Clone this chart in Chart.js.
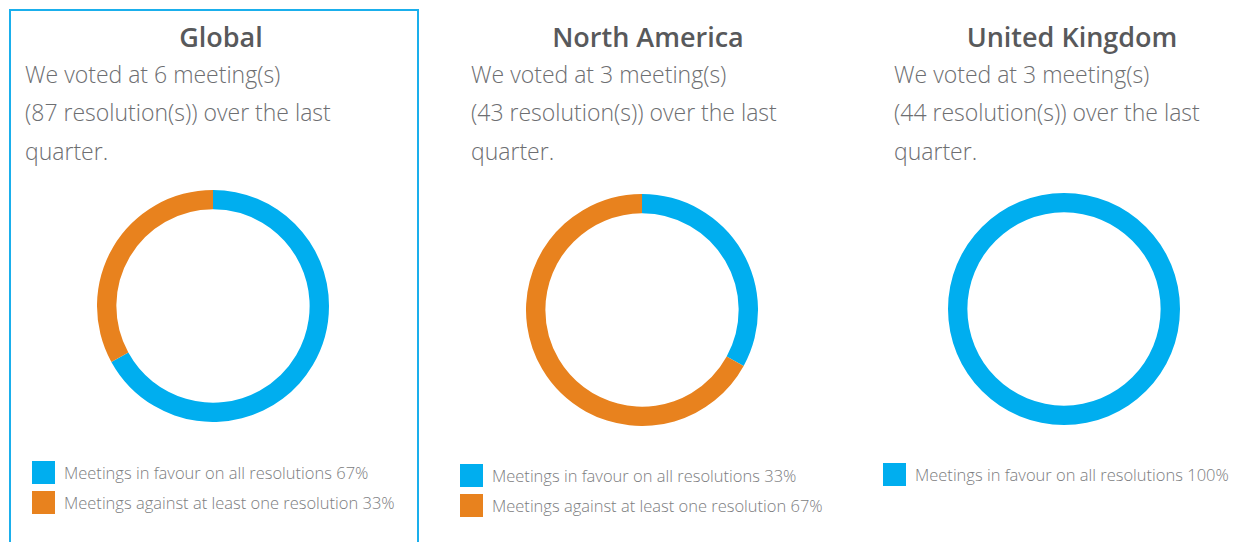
<!DOCTYPE html>
<html>
<head>
<meta charset="utf-8">
<script src="https://cdn.jsdelivr.net/npm/chart.js@4.4.1/dist/chart.umd.min.js"></script>
<style>
  html, body { margin: 0; padding: 0; background: #fff; }
  body { width: 1236px; height: 542px; position: relative; overflow: hidden; font-family: "Open Sans", sans-serif; }
  .frame { position: absolute; left: 9px; top: 9px; width: 406px; height: 600px; border: 2px solid #1aafec; }
  .title { position: absolute; font-weight: 600; font-size: 27px; color: #58595b; white-space: nowrap; transform: translateX(-50%); line-height: 1; }
  .body { position: absolute; font-weight: 300; font-size: 23px; color: #6d6e71; line-height: 38.3px; white-space: nowrap; }
  .chartbox { position: absolute; width: 232px; height: 232px; }
  .legend { position: absolute; font-weight: 300; font-size: 16.5px; color: #7c7d80; }
  .legend .row { position: relative; height: 30px; white-space: nowrap; }
  .legend .sw { position: absolute; left: 0; top: 0; width: 23px; height: 23px; }
  .legend .lbl { position: absolute; left: 32px; top: 0; line-height: 23px; }
</style>
</head>
<body>
<div class="frame"></div>
<script>
// ---- data ----
const regions = ['Global', 'North America', 'United Kingdom'];
const meetings = [6, 3, 3];
const resolutions = [87, 43, 44];
const favourPct = [67, 33, 100];
const againstPct = [33, 67, 0];
const legendLabels = ['Meetings in favour on all resolutions', 'Meetings against at least one resolution'];
const colours = ['#00aeef', '#e8821e'];

// ---- layout (per panel) ----
const layout = [
  { titleX: 221, textX: 25, ringX: 213.4, ringY: 306.4, legX: 32, legY: 461 },
  { titleX: 648, textX: 471, ringX: 641.7, ringY: 309.5, legX: 460, legY: 464 },
  { titleX: 1072, textX: 894, ringX: 1063.8, ringY: 308.5, legX: 883, legY: 463 }
];

regions.forEach((name, i) => {
  const L = layout[i];
  const t = document.createElement('div');
  t.className = 'title';
  t.textContent = name;
  t.style.left = L.titleX + 'px';
  t.style.top = '23px';
  document.body.appendChild(t);

  const b = document.createElement('div');
  b.className = 'body';
  b.style.left = L.textX + 'px';
  b.style.top = '55px';
  b.innerHTML = 'We voted at ' + meetings[i] + ' meeting(s)<br>(' + resolutions[i] + ' resolution(s)) over the last<br>quarter.';
  document.body.appendChild(b);

  const box = document.createElement('div');
  box.className = 'chartbox';
  box.style.left = (L.ringX - 116) + 'px';
  box.style.top = (L.ringY - 116) + 'px';
  const cv = document.createElement('canvas');
  cv.width = 232; cv.height = 232;
  box.appendChild(cv);
  document.body.appendChild(box);

  const values = [favourPct[i], againstPct[i]];
  new Chart(cv, {
    type: 'doughnut',
    data: {
      labels: legendLabels,
      datasets: [{ data: values, backgroundColor: colours, borderWidth: 0, hoverOffset: 0 }]
    },
    options: {
      responsive: false,
      devicePixelRatio: 1,
      animation: false,
      cutout: '83.3%',
      layout: { padding: 0 },
      plugins: { legend: { display: false }, tooltip: { enabled: false } }
    }
  });

  const leg = document.createElement('div');
  leg.className = 'legend';
  leg.style.left = L.legX + 'px';
  leg.style.top = L.legY + 'px';
  values.forEach((v, k) => {
    if (v <= 0) return;
    const row = document.createElement('div');
    row.className = 'row';
    const sw = document.createElement('div');
    sw.className = 'sw';
    sw.style.background = colours[k];
    const lbl = document.createElement('div');
    lbl.className = 'lbl';
    lbl.textContent = legendLabels[k] + ' ' + v + '%';
    row.appendChild(sw); row.appendChild(lbl);
    leg.appendChild(row);
  });
  document.body.appendChild(leg);
});
</script>
</body>
</html>
